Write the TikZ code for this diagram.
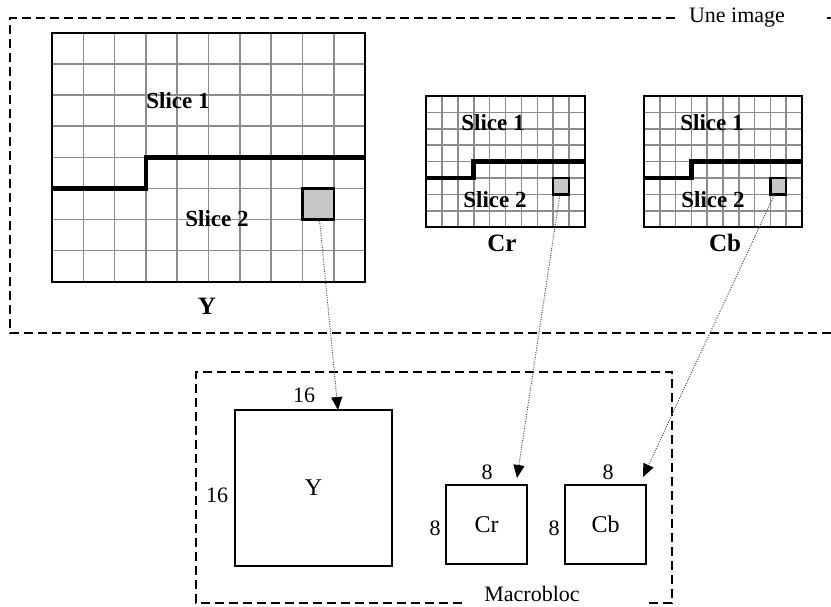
\documentclass[tikz,border=0pt]{standalone}
\usepackage{fontspec}
\setmainfont{Liberation Serif}
\usetikzlibrary{arrows.meta}
\newcommand{\slicegrid}[5]{%
\begin{scope}[shift={(#1,#2)},x=#3pt,y=-#4pt]
\foreach \i in {1,...,9} \draw[cellline] (\i,0)--(\i,8);
\foreach \j in {1,...,7} \draw[cellline] (0,\j)--(10,\j);
\draw[gridframe] (0,0) rectangle (10,8);
\draw[slicecut] (0,5)--(3,5)--(3,4)--(10,4);
\node[mbgray,minimum width=#3pt,minimum height=#4pt] (#5) at (8.5,5.5){};
\end{scope}}
\tikzset{every node/.style={font=\fontsize{22}{24}\selectfont},
cellline/.style={draw=gray!90,line width=1.6pt},
gridframe/.style={line width=2pt},
slicecut/.style={line width=4.5pt},
mbgray/.style={draw,fill=gray!45,line width=2.4pt,inner sep=0pt},
slicelbl/.style={font=\fontsize{23}{26}\selectfont\bfseries},
planelbl/.style={font=\fontsize{25}{28}\selectfont\bfseries},
zone/.style={line width=2pt,dash pattern=on 9pt off 5pt},
block/.style={draw,line width=2pt,inner sep=0pt,font=\fontsize{24}{26}\selectfont},
link/.style={draw=gray!60!black,line width=1pt,dash pattern=on 1pt off 1.4pt,-{Triangle[length=13pt,width=11pt,black]}}}

\begin{document}
\begin{tikzpicture}[x=1pt,y=-1pt]
\useasboundingbox (0,0) rectangle (831,607);
% l'image : trois plans
\draw[zone] (675,18)--(10,18)--(10,333)--(834,333);
\draw[zone] (827,18)--(834,18);
\node (imglbl) at (737,18){Une image};
\slicegrid{52}{33}{31.3}{31.1}{ygray}
\slicegrid{426}{96}{15.9}{16.4}{crgray}
\slicegrid{644}{96}{15.8}{16.4}{cbgray}
\node[slicelbl] (ys1) at (178,101){Slice 1};
\node[slicelbl] (ys2) at (217,219){Slice 2};
\node[slicelbl] (crs1) at (493,123){Slice 1};
\node[slicelbl] (crs2) at (495,200){Slice 2};
\node[slicelbl] (cbs1) at (712,123){Slice 1};
\node[slicelbl] (cbs2) at (713,200){Slice 2};
\node[planelbl] (ylbl) at (207,306){Y};
\node[planelbl] (crlbl) at (502,243){Cr};
\node[planelbl] (cblbl) at (725,243){Cb};
% le macrobloc
\draw[zone] (462,603)--(196,603)--(196,372)--(672,372)--(672,603)--(645,603);
\node (mblbl) at (532,594){Macrobloc};
\node[block,minimum width=157pt,minimum height=156pt] (ybox) at (313.5,488){Y};
\node[block,minimum width=81pt,minimum height=79pt] (crbox) at (486.5,524.5){Cr};
\node[block,minimum width=81pt,minimum height=79pt] (cbbox) at (605.5,524.5){Cb};
\node (ytop) at (304,395){16};\node (yleft) at (217,495){16};
\node (crtop) at (487,472){8};\node (crleft) at (435,528){8};
\node (cbtop) at (608,472){8};\node (cbleft) at (554,528){8};
\coordinate (yend) at (338,410);
\coordinate (crend) at (517,478);
\coordinate (cbend) at (643,477);
\draw[link] (ygray)--(yend);
\draw[link] (crgray)--(crend);
\draw[link] (cbgray)--(cbend);
\end{tikzpicture}
\end{document}
